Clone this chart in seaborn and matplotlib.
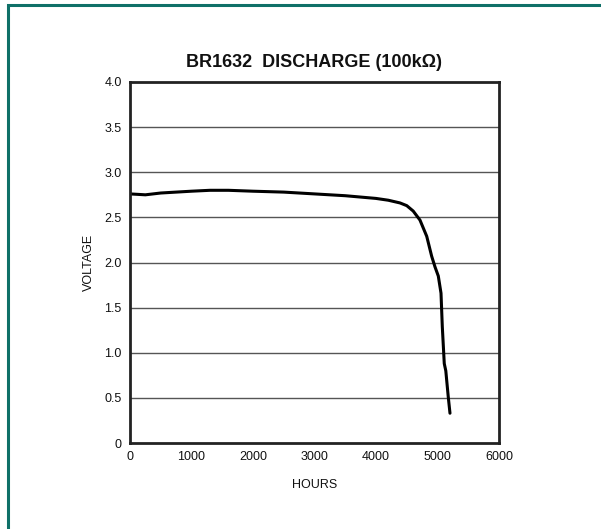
import matplotlib
matplotlib.use("Agg")
import matplotlib.pyplot as plt
import matplotlib.patches as patches
import seaborn as sns
import pandas as pd

# discharge curve
hours = [0, 250, 500, 750, 1000, 1300, 1600, 2000, 2500, 3000, 3500, 4000,
         4200, 4390, 4500, 4605, 4715, 4825, 4905, 4960, 5013, 5057,
         5078, 5110, 5135, 5175, 5203]
voltage = [2.76, 2.75, 2.77, 2.78, 2.79, 2.80, 2.80, 2.79, 2.78, 2.76, 2.74, 2.71,
           2.69, 2.66, 2.63, 2.57, 2.47, 2.29, 2.07, 1.95, 1.85, 1.66,
           1.29, 0.88, 0.80, 0.51, 0.33]
xticks = [0, 1000, 2000, 3000, 4000, 5000, 6000]
yticks = [0, 0.5, 1.0, 1.5, 2.0, 2.5, 3.0, 3.5, 4.0]
ytick_labels = ["0", "0.5", "1.0", "1.5", "2.0", "2.5", "3.0", "3.5", "4.0"]

sns.set_style("white")
plt.rcParams['font.family'] = ['Liberation Sans', 'DejaVu Sans']
plt.rcParams['text.color'] = "#111111"

fig = plt.figure(figsize=(6.01, 5.29), dpi=100)
# teal frame (only left and top edges fall inside the picture)
fig.patches.append(patches.Rectangle((7.5/601, -0.1), 1.2, 1.1 - 5.5/529,
                                     transform=fig.transFigure, fill=False,
                                     edgecolor="#0f7068", linewidth=2.2))

ax = fig.add_axes([130/601, 1 - 443/529, 369/601, 361/529])
df = pd.DataFrame({"HOURS": hours, "VOLTAGE": voltage})
sns.lineplot(data=df, x="HOURS", y="VOLTAGE", ax=ax, color="black",
             linewidth=2.2, sort=False)

ax.set_xlim(0, 6000)
ax.set_ylim(0, 4.0)
ax.set_xticks(xticks)
ax.set_yticks(yticks)
ax.set_yticklabels(ytick_labels)
for y in yticks[1:-1]:
    ax.axhline(y, color="#555555", linewidth=1.0, zorder=0)
for s in ax.spines.values():
    s.set_color("#222222")
    s.set_linewidth(2.0)
ax.tick_params(axis="both", direction="out", length=4, width=1,
               color="#555555", labelsize=9, labelcolor="#111111", pad=2)
ax.set_xlabel("HOURS", fontsize=9, labelpad=11, color="#111111")
ax.set_ylabel("VOLTAGE", fontsize=9, labelpad=7, color="#111111")
ax.set_title("BR1632  DISCHARGE (100k\u03a9)", fontsize=13, fontweight="bold",
             pad=11)

fig.savefig("out.png", dpi=100)
